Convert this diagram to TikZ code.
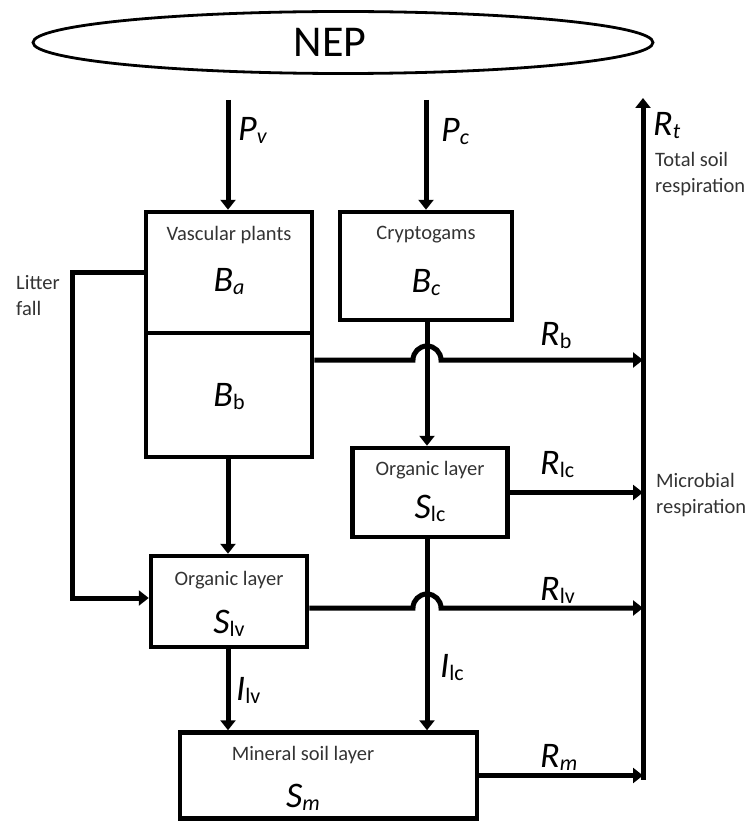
\documentclass[tikz,border=0pt]{standalone}
\usepackage{fontspec}
\setmainfont{Carlito}
\usetikzlibrary{arrows.meta,shapes.geometric}
\newcommand\ML[2]{{\fontsize{36}{36}\selectfont\itshape #1}\raisebox{-3pt}{\fontsize{22}{22}\selectfont #2}}
\begin{document}
\begin{tikzpicture}[x=1pt,y=-1pt,
  box/.style={draw, line width=4.5pt, inner sep=0pt},
  flow/.style={line width=5pt, -{Triangle[length=10pt,width=15pt]}},
  small/.style={font=\fontsize{20.5}{26}\selectfont, text=black!80, inner sep=0pt},
  lbl/.style={inner sep=0pt}]
\useasboundingbox (0,0) rectangle (747,821);
% NEP ellipse
\node[draw, ellipse, line width=2.8pt, minimum width=620pt, minimum height=62pt] (nep) at (343,42.5) {};
\node[inner sep=0pt] (neptxt) at (330,42) {\fontsize{44}{44}\selectfont NEP};
% boxes
\node[box, minimum width=166pt, minimum height=121pt] (Ba) at (229,272.5) {};
\node[box, minimum width=166pt, minimum height=124pt] (Bb) at (229,395) {};
\node[box, minimum width=172pt, minimum height=108pt] (Bc) at (426,266) {};
\node[box, minimum width=155pt, minimum height=89pt] (Slc) at (430,492.5) {};
\node[box, minimum width=156pt, minimum height=91pt] (Slv) at (229,601.5) {};
\node[box, minimum width=297pt, minimum height=86pt] (Sm) at (328.5,775.5) {};
% box texts
\node[small] (vt) at (229,235) {Vascular plants};
\node[lbl] (bat) at (229,282) {\ML{B}{\itshape a}};
\node[small] (ct) at (426,235) {Cryptogams};
\node[lbl] (bct) at (426,283) {\ML{B}{\itshape c}};
\node[lbl] (bbt) at (229,397) {\ML{B}{b}};
\node[small] (olc) at (430,470) {Organic layer};
\node[lbl] (slct) at (430,508) {\ML{S}{lc}};
\node[small] (olv) at (229,580) {Organic layer};
\node[lbl] (slvt) at (229,623) {\ML{S}{lv}};
\node[small] (mst) at (303,755) {Mineral soil layer};
\node[lbl] (smt) at (303,797) {\ML{S}{\itshape m}};
% coordinates
\coordinate (pv) at (228,100);
\coordinate (pc) at (426,100);
\coordinate (cx) at (427,0);
\coordinate (rttop) at (643,98);
\coordinate (rtbot) at (643,779.5);
\coordinate (rb) at (0,360);
\coordinate (rlv) at (0,608);
\coordinate (lt) at (72,0);
\coordinate (lf) at (72,598);
% flows
\draw[flow] (pv) -- (Ba.north -| pv);
\draw[flow] (pc) -- (Bc.north -| pc);
\draw[flow] (rtbot) -- (rttop);
\draw[flow] (Bc.south -| cx) -- (Slc.north -| cx);
\draw[flow] (Slc.south -| cx) -- (Sm.north -| cx);
\draw[flow] (Bb.south -| pv) -- (Slv.north -| pv);
\draw[flow] (Slv.south -| pv) -- (Sm.north -| pv);
\draw[flow] (Ba.west) -- (Ba.west -| lt) -- (lf) -- (Slv.west |- lf);
\draw[flow] (Bb.east |- rb) -- (413,360) arc[start angle=180, end angle=0, radius=14pt] -- (rttop |- rb);
\draw[flow] (Slc.east) -- (Slc.east -| rttop);
\draw[flow] (Slv.east |- rlv) -- (413,608) arc[start angle=180, end angle=0, radius=14pt] -- (rttop |- rlv);
\draw[flow] (Sm.east) -- (Sm.east -| rttop);
% flow labels
\node[lbl, anchor=west] (pvl) at (238,130) {\ML{P}{\itshape v}};
\node[lbl, anchor=west] (pcl) at (441,132) {\ML{P}{\itshape c}};
\node[lbl, anchor=west] (rtl) at (653,126) {\ML{R}{\itshape t}};
\node[lbl, anchor=west] (rbl) at (540,336) {\ML{R}{b}};
\node[lbl, anchor=west] (rlcl) at (540,465) {\ML{R}{lc}};
\node[lbl, anchor=west] (rlvl) at (540,590) {\ML{R}{lv}};
\node[lbl, anchor=west] (rml) at (540,757) {\ML{R}{\itshape m}};
\node[lbl, anchor=west] (ilvl) at (236,690) {\ML{I}{lv}};
\node[lbl, anchor=west] (ilcl) at (440,668) {\ML{I}{lc}};
% side texts
\node[small, align=left, anchor=west] (litter) at (16,296) {Litter\\fall};
\node[small, align=left, anchor=west] (total) at (655,174) {Total soil\\respiration};
\node[small, align=left, anchor=west] (micro) at (656,495) {Microbial\\respiration};
\end{tikzpicture}
\end{document}
